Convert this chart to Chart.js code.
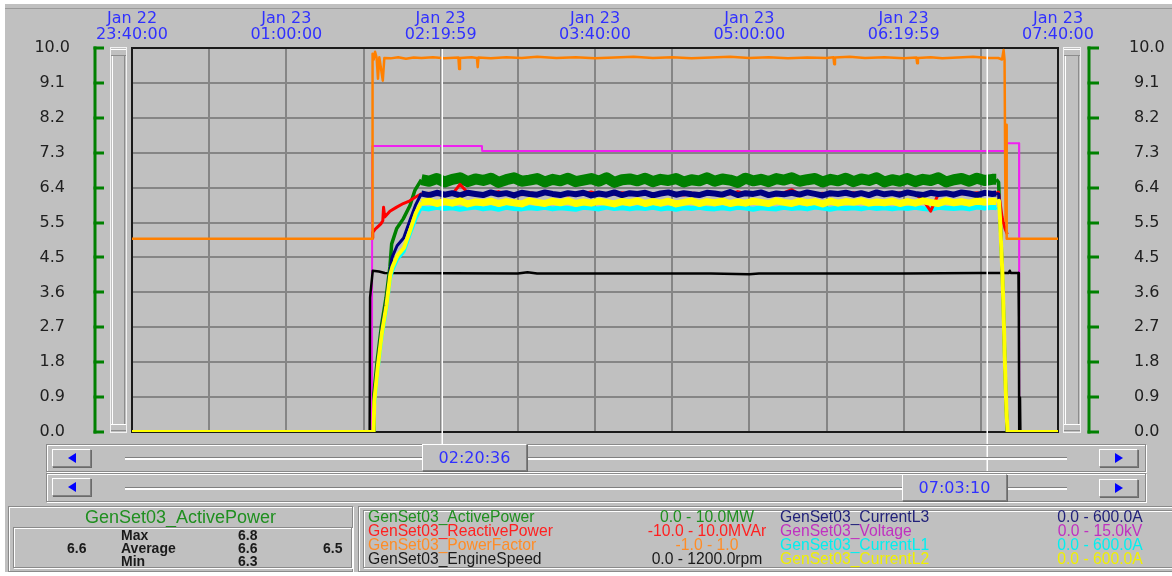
<!DOCTYPE html>
<html>
<head>
<meta charset="utf-8">
<script src="https://cdn.jsdelivr.net/npm/chart.js@4.4.1/dist/chart.umd.min.js"></script>
<style>
html,body{margin:0;padding:0;background:#fff;width:1172px;height:576px;overflow:hidden;position:relative;}
#bg{position:absolute;left:5px;top:4px;width:1167px;height:568px;background:#c0c0c0;}
#topline{position:absolute;left:5px;top:8px;width:1167px;height:1px;background:#9a9a9a;}
#c{position:absolute;left:0;top:0;width:1172px;height:576px;z-index:1;}
.w{position:absolute;z-index:2;box-sizing:border-box;}
.etch{border:1px solid #8a8a8a;box-shadow:inset 1px 1px 0 #fff,1px 1px 0 #fff;}
.raised{background:#c0c0c0;border-top:1px solid #fff;border-left:1px solid #fff;border-right:1px solid #808080;border-bottom:1px solid #808080;box-shadow:1px 1px 0 #6a6a6a;}
.tri-l,.tri-r{position:absolute;left:50%;top:50%;width:0;height:0;margin:-5px 0 0 -4px;border-top:5px solid transparent;border-bottom:5px solid transparent;}
.tri-l{border-right:8px solid #0000ff;}
.tri-r{border-left:8px solid #0000ff;}
.track{height:3px;border-top:1px solid #808080;border-bottom:2px solid #fff;}
.thumb{font:16px "DejaVu Sans";color:#3030ff;text-align:center;line-height:25px;}
.stat{font:bold 14px "Liberation Sans";color:#1a1a1a;line-height:14px;white-space:nowrap;}
.leg{font:15.7px "Liberation Sans";line-height:14px;white-space:nowrap;height:14px;}
</style>
</head>
<body>
<div id="bg"></div>
<div id="topline"></div>
<canvas id="c" width="1172" height="576"></canvas>
<div id="widgets"></div>
<script>
// ---------------- DATA ----------------
const tickDates = ["Jan 22","Jan 23","Jan 23","Jan 23","Jan 23","Jan 23","Jan 23"];
const tickTimes = ["23:40:00","01:00:00","02:19:59","03:40:00","05:00:00","06:19:59","07:40:00"];
const spanMinutes = 480; // 23:40 -> 07:40
const yTickLabels = ["0.0","0.9","1.8","2.7","3.6","4.5","5.5","6.4","7.3","8.2","9.1","10.0"];

const cursorTimes = [160.6, 443.17];
const cursorLabels = ["02:20:36","07:03:10"];

const seriesNames = ["GenSet03_ActivePower","GenSet03_ReactivePower","GenSet03_PowerFactor","GenSet03_EngineSpeed",
                     "GenSet03_CurrentL3","GenSet03_Voltage","GenSet03_CurrentL1","GenSet03_CurrentL2"];
const seriesRanges = ["0.0 - 10.0MW","-10.0 - 10.0MVAr","-1.0 - 1.0","0.0 - 1200.0rpm",
                      "0.0 - 600.0A","0.0 - 15.0kV","0.0 - 600.0A","0.0 - 600.0A"];

const statTitle = "GenSet03_ActivePower";
const statLabels = ["Max","Average","Min"];
const statValues = ["6.8","6.6","6.3"];
const statLeft = "6.6";
const statRight = "6.5";

// shared time grid of the running plateau (minutes after 23:40)
const plateauT = [150,154,158,162,166,170,174,178,182,186,190,194,198,202,206,
                  210,214,218,222,226,230,234,238,242,246,250,254,258,262,266,
                  270,274,278,282,286,290,294,298,302,306,310,314,318,322,326,
                  330,334,338,342,346,350,354,358,362,366,370,374,378,382,386,
                  390,394,398,402,406,410,414,418,422,426,430,434,438,442,446];

const activePowerPreT = [0,125.0,125.4,127.2,129.4,131.7,133.7,134.6,137.2,140.6,144.1,146.7];
const activePowerPreV = [0,0,1.0,1.9,2.8,3.5,4.3,4.9,5.3,5.55,5.9,6.3];
const activePowerPlat = [6.57,6.53,6.60,6.51,6.58,6.62,6.52,6.59,6.55,6.61,6.50,6.57,6.62,6.53,6.56,
                         6.60,6.51,6.58,6.54,6.61,6.52,6.56,6.60,6.53,6.62,6.50,6.57,6.59,6.54,6.61,
                         6.52,6.58,6.55,6.60,6.51,6.57,6.54,6.62,6.53,6.59,6.56,6.50,6.61,6.54,6.58,
                         6.52,6.60,6.56,6.62,6.53,6.57,6.60,6.51,6.58,6.54,6.61,6.52,6.59,6.55,6.62,
                         6.51,6.57,6.53,6.60,6.52,6.58,6.55,6.62,6.51,6.57,6.60,6.53,6.61,6.55,6.58];
const activePowerEndT = [448,449.2,449.7,450.3,451.0,451.6,452.4,453.1,453.7,480];
const activePowerEndV = [6.58,6.50,5.9,5.2,4.3,3.4,1.9,0.7,0,0];

const currentL3PreT = [0,125.1,125.5,127.3,129.5,131.8,133.8,134.8,137.4,140.8,144.3,146.9];
const currentL3PreV = [0,0,0.9,1.8,2.7,3.4,4.2,4.55,4.85,5.05,5.55,5.9];
const currentL3Plat = [6.21,6.17,6.23,6.18,6.22,6.16,6.23,6.20,6.17,6.24,6.19,6.22,6.16,6.23,6.20,
                       6.18,6.24,6.20,6.17,6.22,6.19,6.23,6.16,6.21,6.18,6.24,6.17,6.22,6.20,6.23,
                       6.16,6.21,6.24,6.18,6.22,6.19,6.17,6.23,6.21,6.18,6.25,6.17,6.22,6.20,6.24,
                       6.17,6.21,6.19,6.23,6.18,6.24,6.20,6.16,6.22,6.20,6.23,6.18,6.22,6.17,6.24,
                       6.19,6.22,6.18,6.24,6.20,6.17,6.23,6.20,6.22,6.18,6.24,6.21,6.17,6.23,6.20];
const currentL3EndT = [448,449.3,449.8,450.4,451.1,451.7,452.5,453.2,453.8,480];
const currentL3EndV = [6.21,6.20,5.85,5.1,4.2,3.3,1.8,0.6,0,0];

const currentL2PreT = [0,125.2,125.6,127.4,129.6,131.9,133.9,135.0,137.6,141.0,144.5,147.1];
const currentL2PreV = [0,0,0.8,1.7,2.6,3.3,4.1,4.3,4.6,4.8,5.3,5.7];
const currentL2Plat = [5.98,6.01,5.95,6.00,5.96,6.02,5.94,5.99,5.97,6.01,5.95,6.00,5.97,5.94,6.02,
                       5.98,5.95,6.01,5.97,6.02,5.95,5.99,5.96,6.01,5.98,5.94,6.00,5.97,6.02,5.95,
                       6.00,5.96,6.01,5.94,5.98,6.02,5.95,6.00,5.97,6.01,5.95,5.99,5.96,6.01,5.98,
                       5.95,6.02,5.98,5.95,6.01,5.97,6.00,5.94,6.01,5.96,6.00,5.98,6.02,5.96,5.99,
                       5.97,6.01,5.95,6.00,5.96,6.02,5.98,5.95,6.02,5.97,6.00,5.96,6.01,5.99,6.01];
const currentL2EndT = [448,449.4,449.9,450.5,451.2,451.8,452.6,453.3,453.9,480];
const currentL2EndV = [6.00,6.02,5.6,4.9,4.1,3.1,1.6,0.5,0,0];

const currentL1PreT = [0,125.3,125.7,127.5,129.7,132.0,134.0,135.1,137.7,141.1,144.6,147.2];
const currentL1PreV = [0,0,0.7,1.6,2.5,3.2,4.0,4.2,4.5,4.7,5.2,5.55];
const currentL1Plat = [5.83,5.81,5.85,5.82,5.84,5.80,5.83,5.86,5.81,5.84,5.80,5.85,5.82,5.81,5.84,
                       5.82,5.85,5.81,5.84,5.82,5.80,5.85,5.83,5.81,5.86,5.82,5.84,5.81,5.84,5.82,
                       5.85,5.81,5.83,5.80,5.84,5.82,5.85,5.82,5.81,5.84,5.81,5.85,5.83,5.80,5.84,
                       5.82,5.81,5.85,5.82,5.84,5.81,5.86,5.83,5.80,5.84,5.82,5.84,5.81,5.85,5.82,
                       5.84,5.81,5.84,5.82,5.85,5.82,5.80,5.85,5.83,5.82,5.84,5.81,5.86,5.83,5.85];
const currentL1EndT = [448,449.5,450.0,450.6,451.3,452.0,452.7,453.4,454.0,480];
const currentL1EndV = [5.84,5.80,5.4,4.7,3.9,2.9,1.5,0.4,0,0];

const reactivePowerPreT = [124.5,124.8,126.0,127.5,129.0,130.0,130.4,131.0,133.7,137.0,140.6,144.0,147.0];
const reactivePowerPreV = [5.05,5.2,5.28,5.35,5.42,5.5,5.85,5.6,5.75,5.85,5.95,6.02,6.12];
const reactivePowerPlat = [6.20,6.22,6.18,6.21,6.19,6.45,6.23,6.20,6.17,6.22,6.26,6.19,6.21,6.18,6.23,
                           6.20,6.24,6.19,6.21,6.17,6.22,6.20,6.25,6.18,6.21,6.19,6.23,6.20,6.18,6.22,
                           6.21,6.19,6.24,6.20,6.17,6.22,6.21,6.19,6.23,6.18,6.20,6.26,6.21,6.19,6.22,
                           6.20,6.18,6.23,6.31,6.19,6.24,6.20,6.22,6.18,6.21,6.20,6.23,6.19,6.21,6.22,
                           6.18,6.20,6.23,6.21,6.19,6.05,5.75,6.20,6.22,6.19,6.21,6.20,6.23,6.19,6.22];
const reactivePowerEndT = [448,449.1,449.9,451.0,451.7,452.5,453.7];
const reactivePowerEndV = [6.21,6.25,6.0,5.6,5.45,5.3,5.15];

const powerFactorT = [0,124.6,124.7,125.3,126.0,126.8,127.5,128.2,130.0,130.8,
                      134,138,142,146,150,156,162,
                      169.2,169.6,170.0,
                      176,178.8,179.2,179.6,
                      186,194,202,210,220,230,240,250,260,270,280,290,300,310,320,330,340,350,360,
                      363.6,364.0,364.4,
                      372,380,390,400,
                      406.6,407.0,407.4,
                      414,420,428,436,444,
                      449,451,451.8,452.3,452.8,453.1,453.4,480];
const powerFactorV = [5.03,5.03,9.85,9.70,9.90,9.75,9.20,9.76,9.15,9.74,
                      9.73,9.76,9.72,9.75,9.74,9.76,9.73,
                      9.75,9.45,9.74,
                      9.76,9.74,9.50,9.75,
                      9.73,9.76,9.74,9.77,9.74,9.76,9.73,9.75,9.77,9.74,9.76,9.73,9.75,9.77,9.74,9.76,9.73,9.75,9.74,
                      9.76,9.58,9.75,
                      9.77,9.74,9.76,9.73,
                      9.75,9.60,9.74,
                      9.76,9.73,9.75,9.77,9.74,
                      9.74,9.70,9.95,9.70,5.5,8.0,5.03,5.03];

const engineSpeedT = [0,123.2,123.4,124.8,128,131,200,205,210,300,320,325,400,440,454.5,455,455.5,459.5,459.7,459.9,460.3,460.5,480];
const engineSpeedV = [0,0,3.5,4.2,4.18,4.14,4.13,4.16,4.13,4.13,4.11,4.13,4.13,4.14,4.14,4.2,4.14,4.14,3.0,0,0.9,0,0];

const voltageT = [0,124.4,124.5,181.4,181.5,453.5,453.6,459.8,459.9,480];
const voltageV = [0,0,7.45,7.45,7.32,7.32,7.52,7.52,0,0];

// ---------------- BUILD ----------------
function pts(ts, vs){ return ts.map((t,i)=>({x:t, y:vs[i]})); }
function joinParts(...parts){ return [].concat(...parts); }

const lineColors = ["#008000","#ff0000","#ff8000","#000000","#000080","#f020f0","#00ffff","#ffff00"];
const textColors = ["#1f8f1f","#ff2020","#ff8c26","#1a1a1a","#22227a","#c030c0","#00f0f0","#f0f000"];

// thicker stroke while the set is running steadily (noise band), thinner on ramps and at rest
const plateauStart = plateauT[0], plateauEnd = plateauT[plateauT.length-1] + 2;
function bandWidth(wide, thin){
  return ctx => (ctx.p0.parsed.x >= plateauStart && ctx.p1.parsed.x <= plateauEnd) ? wide : thin;
}

const dsBase = {pointRadius:0, pointHoverRadius:0, tension:0, fill:false, clip:0, borderJoinStyle:'round'};
const datasets = [
  {...dsBase, label:seriesNames[2], data:pts(powerFactorT,powerFactorV), borderColor:lineColors[2], borderWidth:2.5, order:0},
  {...dsBase, label:seriesNames[7], data:joinParts(pts(currentL2PreT,currentL2PreV),pts(plateauT,currentL2Plat),pts(currentL2EndT,currentL2EndV)), borderColor:lineColors[7], borderWidth:4, segment:{borderWidth:bandWidth(7,4)}, order:1},
  {...dsBase, label:seriesNames[4], data:joinParts(pts(currentL3PreT,currentL3PreV),pts(plateauT,currentL3Plat),pts(currentL3EndT,currentL3EndV)), borderColor:lineColors[4], borderWidth:3, segment:{borderWidth:bandWidth(6,3)}, order:2},
  {...dsBase, label:seriesNames[1], data:joinParts(pts(reactivePowerPreT,reactivePowerPreV),pts(plateauT,reactivePowerPlat),pts(reactivePowerEndT,reactivePowerEndV)), borderColor:lineColors[1], borderWidth:3, order:3},
  {...dsBase, label:seriesNames[0], data:joinParts(pts(activePowerPreT,activePowerPreV),pts(plateauT,activePowerPlat),pts(activePowerEndT,activePowerEndV)), borderColor:lineColors[0], borderWidth:3.5, segment:{borderWidth:bandWidth(11,3.5)}, order:4},
  {...dsBase, label:seriesNames[6], data:joinParts(pts(currentL1PreT,currentL1PreV),pts(plateauT,currentL1Plat),pts(currentL1EndT,currentL1EndV)), borderColor:lineColors[6], borderWidth:3, segment:{borderWidth:bandWidth(5,3)}, order:5},
  {...dsBase, label:seriesNames[3], data:pts(engineSpeedT,engineSpeedV), borderColor:lineColors[3], borderWidth:2.5, order:6},
  {...dsBase, label:seriesNames[5], data:pts(voltageT,voltageV), borderColor:lineColors[5], borderWidth:2, order:7}
];

const LAYOUT = {plotLeft:132, plotRight:1058, plotTop:48, plotBottom:432, cursorEnds:[444,474]};

function yTicksBuild(scale){
  const n = yTickLabels.length - 1;
  scale.ticks = yTickLabels.map((_,i)=>({value: i*10/n}));
}

function drawSlider(ctx, x, top, w, bottom){
  ctx.save();
  ctx.lineWidth = 1;
  ctx.strokeStyle = '#f2f2f2';
  ctx.strokeRect(x+0.5, top-0.5, w-1, bottom-top+1);
  ctx.strokeStyle = '#8c8c8c';
  ctx.beginPath(); ctx.moveTo(x+w-2.5, top+8); ctx.lineTo(x+w-2.5, bottom-8); ctx.stroke();
  ctx.strokeStyle = '#ffffff';
  ctx.beginPath(); ctx.moveTo(x+2.5, top+8); ctx.lineTo(x+2.5, bottom-8); ctx.stroke();
  ctx.strokeStyle = '#ffffff';
  ctx.beginPath(); ctx.moveTo(x+1, top+1.5); ctx.lineTo(x+w-1, top+1.5); ctx.stroke();
  ctx.beginPath(); ctx.moveTo(x+1, bottom-7.5); ctx.lineTo(x+w-1, bottom-7.5); ctx.stroke();
  ctx.strokeStyle = '#8c8c8c';
  ctx.beginPath(); ctx.moveTo(x+1, top+7.5); ctx.lineTo(x+w-1, top+7.5); ctx.stroke();
  ctx.beginPath(); ctx.moveTo(x+1, bottom-1.5); ctx.lineTo(x+w-1, bottom-1.5); ctx.stroke();
  ctx.restore();
}

const decor = {
  id:'decor',
  beforeDatasetsDraw(chart){
    const {ctx, chartArea:a} = chart;
    ctx.save();
    ctx.strokeStyle = '#1a1a1a'; ctx.lineWidth = 2;
    ctx.strokeRect(a.left, a.top, a.right-a.left, a.bottom-a.top);
    ctx.restore();
  },
  afterDraw(chart){
    const {ctx, chartArea:a, scales} = chart;
    const ys = scales.y;
    drawSlider(ctx, a.left-22, a.top, 17, a.bottom);
    drawSlider(ctx, a.right+5, a.top, 18, a.bottom);
    ctx.save();
    ctx.strokeStyle = '#008000'; ctx.lineWidth = 3;
    [[a.left-37, 9],[a.right+31, 10]].forEach(([bx,len])=>{
      ctx.beginPath();
      ctx.moveTo(bx, ys.getPixelForValue(0)+1.5);
      ctx.lineTo(bx, ys.getPixelForValue(10)-1.5);
      ctx.stroke();
      ys.ticks.forEach(t=>{
        const py = Math.round(ys.getPixelForValue(t.value));
        ctx.beginPath(); ctx.moveTo(bx-1.5, py); ctx.lineTo(bx+len, py); ctx.stroke();
      });
    });
    ctx.strokeStyle = '#ffffff'; ctx.lineWidth = 1.5;
    cursorTimes.forEach((t,i)=>{
      const px = Math.round(scales.x.getPixelForValue(t)) + 0.25;
      ctx.beginPath(); ctx.moveTo(px, a.top+1); ctx.lineTo(px, LAYOUT.cursorEnds[i]); ctx.stroke();
    });
    ctx.restore();
  }
};

const gridCol = '#858585';
const clearTick = 'rgba(0,0,0,0)';
new Chart(document.getElementById('c'), {
  type:'line',
  data:{datasets},
  options:{
    responsive:false, animation:false, devicePixelRatio:1,
    events:[],
    layout:{padding:{left:0,right:0,top:0,bottom:576-LAYOUT.plotBottom}, autoPadding:false},
    plugins:{legend:{display:false}, tooltip:{enabled:false}},
    scales:{
      x:{
        type:'linear', position:'top', min:0, max:spanMinutes,
        afterBuildTicks(scale){
          const n = (tickTimes.length-1)*2;
          scale.ticks = Array.from({length:n+1}, (_,i)=>({value: i*spanMinutes/n}));
        },
        afterFit(scale){ scale.height = LAYOUT.plotTop; },
        ticks:{
          autoSkip:false, maxRotation:0, minRotation:0, padding:5,
          color:'#3030ff', font:{family:'DejaVu Sans', size:16, lineHeight:1},
          callback(v, i){ return i%2===0 ? [tickDates[i/2], tickTimes[i/2]] : ''; }
        },
        grid:{color:gridCol, lineWidth:2, drawTicks:false},
        border:{display:false}
      },
      y:{
        type:'linear', position:'left', min:0, max:10,
        afterBuildTicks:yTicksBuild,
        afterFit(scale){ scale.width = LAYOUT.plotLeft; },
        ticks:{autoSkip:false, padding:0, crossAlign:'center', color:'#202020',
               font:{family:'DejaVu Sans', size:16}, callback(v,i){ return yTickLabels[i]; }},
        grid:{color:gridCol, lineWidth:2, drawTicks:true, tickLength:62, tickColor:clearTick},
        border:{display:false}
      },
      y2:{
        type:'linear', position:'right', min:0, max:10,
        afterBuildTicks:yTicksBuild,
        afterFit(scale){ scale.width = 1172 - LAYOUT.plotRight; },
        ticks:{autoSkip:false, padding:0, crossAlign:'center', color:'#202020',
               font:{family:'DejaVu Sans', size:16}, callback(v,i){ return yTickLabels[i]; }},
        grid:{display:true, drawOnChartArea:false, drawTicks:true, tickLength:71, tickColor:clearTick, color:clearTick},
        border:{display:false}
      }
    }
  },
  plugins:[decor]
});

// ---------------- HTML WIDGETS (scrollbars, statistics, legend) ----------------
const W = document.getElementById('widgets');
function box(cls, l, t, w, h, html, style){
  const d = document.createElement('div');
  d.className = 'w ' + cls;
  d.style.left = l+'px'; d.style.top = t+'px';
  if (w!=null) d.style.width = w+'px';
  if (h!=null) d.style.height = h+'px';
  if (style) d.style.cssText += style;
  if (html!=null) d.innerHTML = html;
  W.appendChild(d);
  return d;
}
function esc(s){ return s.replace(/&/g,'&amp;').replace(/</g,'&lt;'); }

// scrollbars
[[444,28,449,457],[473,29,478,487]].forEach(([top,h,btop,ttop],i)=>{
  box('etch', 46, top, 1100, h);
  box('track', 125, ttop, 942, null);
  box('raised', 52, btop, 39, 18, '<div class="tri-l"></div>');
  box('raised', 1099, btop+i, 39, 18, '<div class="tri-r"></div>');
});
box('raised thumb', 422, 444, 105, 27, esc(cursorLabels[0]));
box('raised thumb', 902, 474, 105, 27, esc(cursorLabels[1]));

// statistics panel
box('etch', 8, 506, 345, 66);
box('', 8, 509, 345, 18, esc(statTitle), 'font:18px "Liberation Sans";color:#1f8f1f;text-align:center;line-height:16px;');
box('etch', 13, 527, 339, 41);
box('stat', 67, 541, null, 14, esc(statLeft));
statLabels.forEach((s,i)=>{
  box('stat', 121, 528+i*13, null, 14, esc(s));
  box('stat', 238, 528+i*13, null, 14, esc(statValues[i]));
});
box('stat', 323, 541, null, 14, esc(statRight));

// legend panel
box('etch', 358, 506, 830, 66);
box('etch', 363, 510, 820, 58);
seriesNames.forEach((name,i)=>{
  const col = Math.floor(i/4), row = i%4;
  const top = 510 + row*14;
  const nameLeft = col===0 ? 368 : 780;
  const rangeCenter = col===0 ? 707 : 1100;
  box('leg', nameLeft, top, null, null, esc(name), 'color:'+textColors[i]+';');
  box('leg', rangeCenter-110, top, 220, null, esc(seriesRanges[i]), 'color:'+textColors[i]+';text-align:center;');
});
</script>
</body>
</html>
